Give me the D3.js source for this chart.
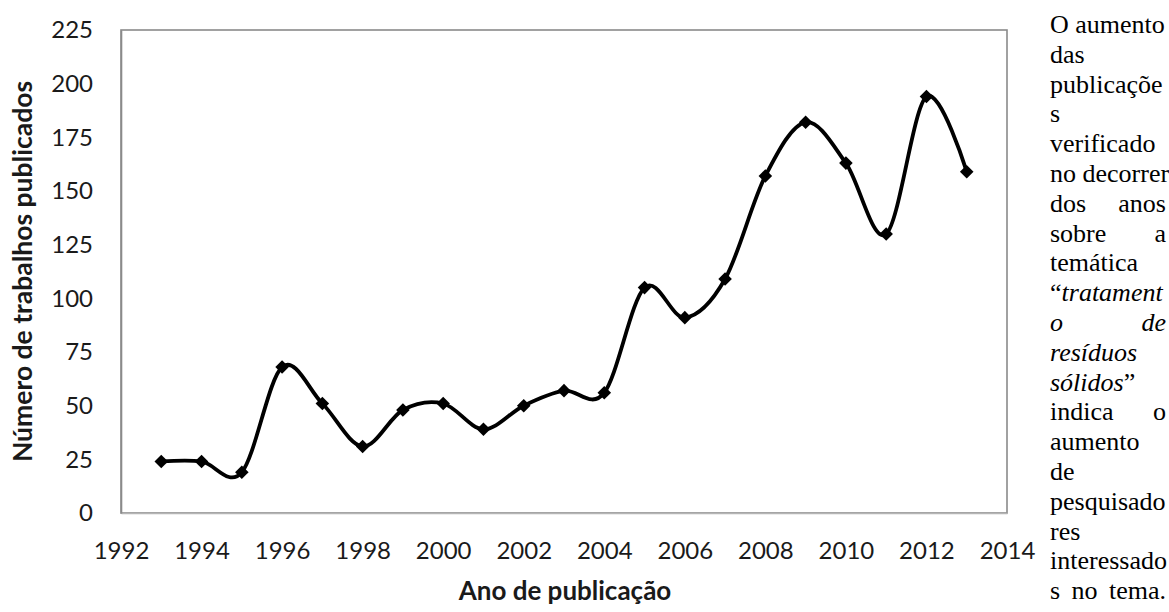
<!DOCTYPE html>
<html>
<head>
<meta charset="utf-8">
<script src="https://cdn.jsdelivr.net/npm/d3@7"></script>
<style>
  html, body { margin: 0; padding: 0; background: #fff; }
  svg { display: block; }
</style>
</head>
<body>
<svg id="chart" width="1169" height="612"></svg>
<script>
// ---- data ----
const years = [1993,1994,1995,1996,1997,1998,1999,2000,2001,2002,2003,2004,2005,2006,2007,2008,2009,2010,2011,2012,2013];
const publications = [24,24,19,68,51,31,48,51,39,50,57,56,105,91,109,157,182,163,130,194,159];
const xTicks = [1992,1994,1996,1998,2000,2002,2004,2006,2008,2010,2012,2014];
const yTicks = [0,25,50,75,100,125,150,175,200,225];
const xTitle = "Ano de publicação";
const yTitle = "Número de trabalhos publicados";
// side paragraph lines: [text, justified]
const sideLines = [
  ["O aumento", false], ["das", false], ["publicaçõe", false], ["s", false],
  ["verificado", false], ["no decorrer", false], ["dos anos", true], ["sobre a", true],
  ["temática", false], ["“tratament", false], ["o de", true], ["resíduos", false],
  ["sólidos”", false], ["indica o", true], ["aumento", false], ["de", false],
  ["pesquisado", false], ["res", false], ["interessado", false], ["s no tema.", true]
];
const italicLines = [9, 10, 11, 12];

// ---- layout ----
const svg = d3.select("#chart");
const m = {left: 121, top: 30, right: 1007, bottom: 513};

const x = d3.scaleLinear().domain([1992, 2014]).range([m.left, m.right]);
const y = d3.scaleLinear().domain([0, 225]).range([m.bottom, m.top]);

const labelFont = "Lato, 'Open Sans', sans-serif";

// plot frame
svg.append("rect")
  .attr("x", m.left).attr("y", m.top)
  .attr("width", m.right - m.left).attr("height", m.bottom - m.top)
  .attr("fill", "none").attr("stroke", "#8a8a8a").attr("stroke-width", 1.6);

// x axis
const xAxis = svg.append("g")
  .attr("transform", `translate(0,${m.bottom})`)
  .call(d3.axisBottom(x).tickValues(xTicks).tickFormat(d3.format("d")).tickSize(0).tickPadding(29));
xAxis.select(".domain").attr("stroke", "#b5b5b5").attr("stroke-width", 1.4);
xAxis.selectAll("text").attr("font-family", labelFont).attr("font-size", 24).attr("fill", "#1a1a1a");

// y axis
const yAxis = svg.append("g")
  .attr("transform", `translate(${m.left},0)`)
  .call(d3.axisLeft(y).tickValues(yTicks).tickFormat(d3.format("d")).tickSize(0).tickPadding(28));
yAxis.select(".domain").attr("stroke", "#8a8a8a").attr("stroke-width", 1.6);
yAxis.selectAll("text").attr("font-family", labelFont).attr("font-size", 24).attr("fill", "#1a1a1a");

// titles
svg.append("text")
  .attr("x", (m.left + m.right) / 2 + 1).attr("y", 600)
  .attr("text-anchor", "middle")
  .attr("font-family", labelFont).attr("font-weight", "bold").attr("font-size", 26)
  .attr("fill", "#1a1a1a")
  .text(xTitle);

svg.append("text")
  .attr("transform", `translate(32,${(m.top + m.bottom) / 2}) rotate(-90)`)
  .attr("text-anchor", "middle")
  .attr("font-family", labelFont).attr("font-weight", "bold").attr("font-size", 26.5)
  .attr("fill", "#1a1a1a")
  .text(yTitle);

// line
const pts = years.map((yr, i) => [yr, publications[i]]);
const line = d3.line()
  .x(d => x(d[0])).y(d => y(d[1]))
  .curve(d3.curveCardinal.tension(0));
svg.append("path")
  .datum(pts)
  .attr("d", line)
  .attr("fill", "none").attr("stroke", "#000").attr("stroke-width", 3.8)
  .attr("stroke-linejoin", "round");

// markers
const sym = d3.symbol().type(d3.symbolSquare).size(92);
svg.append("g").selectAll("path")
  .data(pts)
  .join("path")
  .attr("d", sym)
  .attr("transform", d => `translate(${x(d[0])},${y(d[1])}) rotate(45)`)
  .attr("fill", "#000");

// side paragraph
const colLeft = 1050, colRight = 1166, firstBase = 33, lineStep = 29.8;
const side = svg.append("g")
  .attr("font-family", "'Liberation Serif', 'Times New Roman', serif")
  .attr("font-size", 26).attr("fill", "#000");

function addWord(parent, w, yy, italic) {
  const t = parent.append("text").attr("x", 0).attr("y", yy);
  // quotation marks stay upright, words italic
  const parts = w.split(/([“”])/).filter(s => s.length);
  parts.forEach(p => {
    t.append("tspan")
      .attr("font-style", italic && !/[“”]/.test(p) ? "italic" : "normal")
      .text(p);
  });
  return t;
}

sideLines.forEach((ln, i) => {
  const [txt, just] = ln;
  const yy = firstBase + i * lineStep;
  const italic = italicLines.includes(i);
  const words = just ? txt.split(" ") : [txt];
  const tmp = words.map(w => addWord(side, w, yy, italic));
  if (words.length === 1) {
    tmp[0].attr("x", colLeft);
  } else {
    const widths = tmp.map(t => t.node().getComputedTextLength());
    const gap = (colRight - colLeft - d3.sum(widths)) / (words.length - 1);
    let cx = colLeft;
    tmp.forEach((t, k) => { t.attr("x", cx); cx += widths[k] + gap; });
  }
});
</script>
</body>
</html>
